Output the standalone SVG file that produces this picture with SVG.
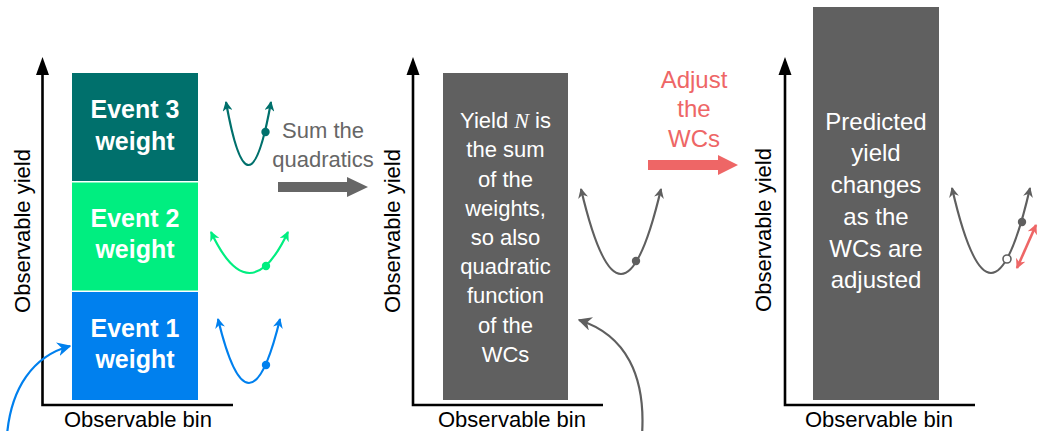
<svg xmlns="http://www.w3.org/2000/svg" width="1041" height="431" viewBox="0 0 1041 431">
<style>
text{font-family:"Liberation Sans",Arial,sans-serif}
.axis{stroke:#000;stroke-width:2.6;fill:none}
.ahd{fill:#000}
.lbl{font-size:22px;fill:#000}
.evt{font-size:25px;font-weight:bold;fill:#fff;text-anchor:middle}
.box{font-size:22px;fill:#fff;text-anchor:middle}
.box3{font-size:24px;fill:#fff;text-anchor:middle}
.curve{fill:none;stroke-width:2.2}
</style>
<defs>
<marker id="m-teal" viewBox="0 0 10 10" refX="9" refY="5" markerWidth="10" markerHeight="10" markerUnits="userSpaceOnUse" orient="auto-start-reverse"><path d="M0,0 L10,5 L0,10 L3,5z" fill="#00706C"/></marker>
<marker id="m-green" viewBox="0 0 10 10" refX="9" refY="5" markerWidth="10" markerHeight="10" markerUnits="userSpaceOnUse" orient="auto-start-reverse"><path d="M0,0 L10,5 L0,10 L3,5z" fill="#00EE80"/></marker>
<marker id="m-blue" viewBox="0 0 10 10" refX="9" refY="5" markerWidth="10" markerHeight="10" markerUnits="userSpaceOnUse" orient="auto-start-reverse"><path d="M0,0 L10,5 L0,10 L3,5z" fill="#0080EE"/></marker>
<marker id="m-gray" viewBox="0 0 10 10" refX="9" refY="5" markerWidth="10" markerHeight="10" markerUnits="userSpaceOnUse" orient="auto-start-reverse"><path d="M0,0 L10,5 L0,10 L3,5z" fill="#5f5f5f"/></marker>
<marker id="m-red" viewBox="0 0 10 10" refX="9" refY="5" markerWidth="10" markerHeight="10" markerUnits="userSpaceOnUse" orient="auto-start-reverse"><path d="M0,0 L10,5 L0,10 L3,5z" fill="#EE6666"/></marker>
<marker id="mb-blue" viewBox="0 0 10 10" refX="9" refY="5" markerWidth="14" markerHeight="14" markerUnits="userSpaceOnUse" orient="auto"><path d="M0,0 L10,5 L0,10 L3,5z" fill="#0080EE"/></marker>
<marker id="mb-gray" viewBox="0 0 10 10" refX="9" refY="5" markerWidth="14" markerHeight="14" markerUnits="userSpaceOnUse" orient="auto"><path d="M0,0 L10,5 L0,10 L3,5z" fill="#5f5f5f"/></marker>
</defs>
<rect width="1041" height="431" fill="#fff"/>

<!-- Panel 1 -->
<g id="axes1">
<path class="axis" d="M42.5,70 V405 H233"/>
<polygon class="ahd" points="42.5,57 36,75 49,75"/>
<text class="lbl" transform="translate(30,231) rotate(-90)" text-anchor="middle">Observable yield</text>
<text class="lbl" x="138" y="427" text-anchor="middle">Observable bin</text>
</g>
<g id="event3">
<rect x="72" y="73" width="126" height="108" fill="#00706C"/>
<text class="evt" x="135" y="118">Event 3</text>
<text class="evt" x="135" y="150">weight</text>
</g>
<g id="event2">
<rect x="72" y="182.5" width="126" height="108" fill="#00EE80"/>
<text class="evt" x="135" y="227">Event 2</text>
<text class="evt" x="135" y="258">weight</text>
</g>
<g id="event1">
<rect x="72" y="292" width="126" height="108" fill="#0080EE"/>
<text class="evt" x="135" y="337">Event 1</text>
<text class="evt" x="135" y="368">weight</text>
</g>
<g id="quad3">
<path class="curve" stroke="#00706C" d="M226,102 Q248.5,228 271,102" marker-start="url(#m-teal)" marker-end="url(#m-teal)"/>
<circle cx="265.5" cy="132" r="4.2" fill="#00706C"/>
</g>
<g id="quad2">
<path class="curve" stroke="#00EE80" d="M211,232 Q249.5,314 288,232" marker-start="url(#m-green)" marker-end="url(#m-green)"/>
<circle cx="266" cy="266" r="4.2" fill="#00EE80"/>
</g>
<g id="quad1">
<path class="curve" stroke="#0080EE" d="M218,319 Q249,447 280,319" marker-start="url(#m-blue)" marker-end="url(#m-blue)"/>
<circle cx="266" cy="365" r="4.2" fill="#0080EE"/>
</g>

<!-- Sum label -->
<g id="sum-label">
<text x="323" y="138" font-size="22" fill="#666" text-anchor="middle">Sum the</text>
<text x="323" y="167" font-size="22" fill="#666" text-anchor="middle">quadratics</text>
</g>

<!-- Panel 2 -->
<g id="axes2">
<path class="axis" d="M413,70 V405 H603"/>
<polygon class="ahd" points="413,57 406.5,75 419.5,75"/>
<text class="lbl" transform="translate(400,231) rotate(-90)" text-anchor="middle">Observable yield</text>
<text class="lbl" x="512" y="427" text-anchor="middle">Observable bin</text>
</g>
<g id="yieldbox">
<rect x="443" y="73" width="125" height="327" fill="#606060"/>
<text class="box" x="505.5" y="128">Yield <tspan font-family="Liberation Serif" font-style="italic">N</tspan> is</text>
<text class="box" x="505.5" y="157">the sum</text>
<text class="box" x="505.5" y="187">of the</text>
<text class="box" x="505.5" y="216">weights,</text>
<text class="box" x="505.5" y="245">so also</text>
<text class="box" x="505.5" y="274">quadratic</text>
<text class="box" x="505.5" y="303">function</text>
<text class="box" x="505.5" y="333">of the</text>
<text class="box" x="505.5" y="362">WCs</text>
</g>
<g id="quadsum">
<path class="curve" stroke="#5f5f5f" d="M581,189 Q621,359 661,189" marker-start="url(#m-gray)" marker-end="url(#m-gray)"/>
<circle cx="636" cy="261" r="4.2" fill="#5f5f5f"/>
</g>

<!-- Adjust label -->
<g id="adjust-label">
<text x="694" y="88" font-size="24" fill="#EE6666" text-anchor="middle">Adjust</text>
<text x="694" y="117" font-size="24" fill="#EE6666" text-anchor="middle">the</text>
<text x="694" y="147" font-size="24" fill="#EE6666" text-anchor="middle">WCs</text>
</g>

<!-- Panel 3 -->
<g id="axes3">
<path class="axis" d="M785,70 V405 H975"/>
<polygon class="ahd" points="785,57 778.5,75 791.5,75"/>
<text class="lbl" transform="translate(771,230) rotate(-90)" text-anchor="middle">Observable yield</text>
<text class="lbl" x="879" y="427" text-anchor="middle">Observable bin</text>
</g>
<g id="predbox">
<rect x="813" y="7" width="126" height="393" fill="#606060"/>
<text class="box3" x="876" y="130">Predicted</text>
<text class="box3" x="876" y="161">yield</text>
<text class="box3" x="876" y="193">changes</text>
<text class="box3" x="876" y="225">as the</text>
<text class="box3" x="876" y="257">WCs are</text>
<text class="box3" x="876" y="288">adjusted</text>
</g>
<g id="quadpred">
<path class="curve" stroke="#5f5f5f" d="M952,188 Q991,358 1030,188" marker-start="url(#m-gray)" marker-end="url(#m-gray)"/>
<circle cx="1022" cy="222" r="4.2" fill="#5f5f5f"/>
<circle cx="1007" cy="259" r="4" fill="#fff" stroke="#5f5f5f" stroke-width="1.6"/>
<path d="M1017,268 L1036,225" stroke="#EE6666" stroke-width="2.6" fill="none" marker-start="url(#m-red)" marker-end="url(#m-red)"/>
</g>

<!-- Connectors -->
<g id="connectors">
<polygon points="278,182 347,182 347,177 368,187 347,197 347,192 278,192" fill="#666"/>
<polygon points="648,160 718,160 718,155 738,165 718,175 718,170 648,170" fill="#EE6666"/>
<path d="M7,435 C11,388 33,356 70,346" fill="none" stroke="#0080EE" stroke-width="2.2" marker-end="url(#mb-blue)"/>
<path d="M642,435 C646,376 626,335 579,320" fill="none" stroke="#5f5f5f" stroke-width="2.2" marker-end="url(#mb-gray)"/>
</g>
</svg>
